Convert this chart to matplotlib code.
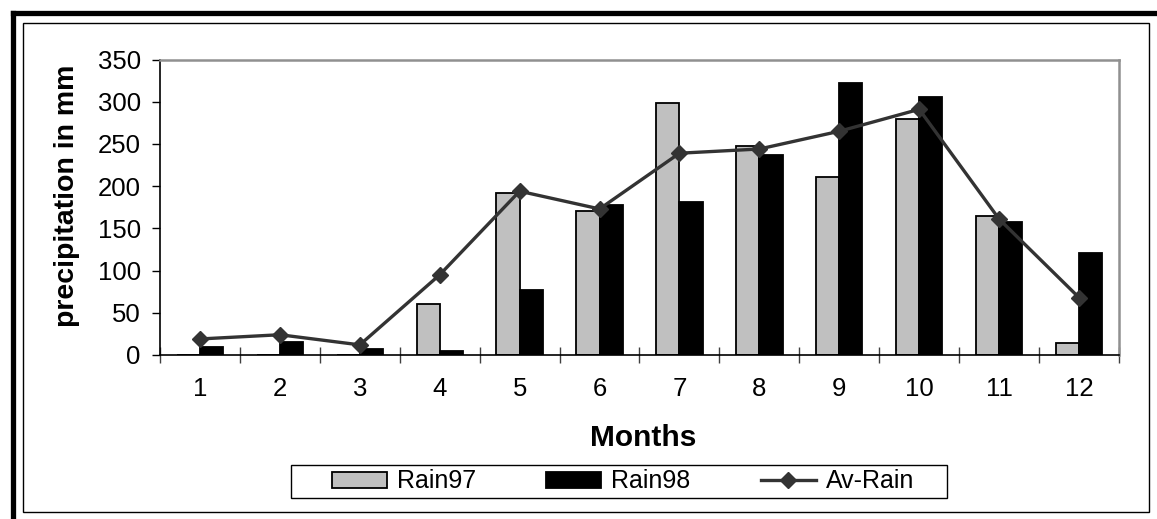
import matplotlib.pyplot as plt
from matplotlib.patches import Rectangle
from matplotlib.lines import Line2D

plt.rcParams['font.family'] = ['Liberation Sans', 'DejaVu Sans']

# data
months = [1, 2, 3, 4, 5, 6, 7, 8, 9, 10, 11, 12]
rain97 = [0, 0, 0, 60, 192, 170, 298, 248, 211, 279, 165, 14]
rain98 = [10, 15, 7, 5, 77, 178, 181, 237, 322, 305, 157, 121]
av_rain = [19, 24, 12, 95, 194, 173, 239, 244, 265, 291, 161, 68]
yticks = [0, 50, 100, 150, 200, 250, 300, 350]

W, H = 1157, 519
fig = plt.figure(figsize=(W / 100, H / 100), dpi=100)
ax = fig.add_axes([160 / W, 1 - 355 / H, 959 / W, 295.5 / H])

w = 0.29
x97 = [m - w / 2 for m in months]
x98 = [m + w / 2 for m in months]
b97 = ax.bar(x97, rain97, width=w, color='#c0c0c0', edgecolor='black', linewidth=1.3, label='Rain97', zorder=2)
b98 = ax.bar(x98, rain98, width=w, color='black', edgecolor='black', linewidth=1.3, label='Rain98', zorder=2)
ln, = ax.plot(months, av_rain, color='#333333', linewidth=2.4, marker='D', markersize=8,
              label='Av-Rain', zorder=3)

ax.set_xlim(0.5, 12.5)
ax.set_ylim(0, 350)
ax.set_yticks(yticks)
ax.set_xticks([m + 0.5 for m in range(0, 13)])
ax.set_xticklabels([])
ax.set_xticks(months, minor=True)
ax.set_xticklabels([str(m) for m in months], minor=True)
ax.tick_params(axis='x', which='major', direction='inout', length=11.5, width=1, color='#404040')
ax.tick_params(axis='x', which='minor', length=0, pad=16, labelsize=18.5)
ax.tick_params(axis='y', direction='out', length=5.8, width=1, pad=8, labelsize=18.5)

for s in ['left', 'bottom']:
    ax.spines[s].set_color('black')
    ax.spines[s].set_linewidth(1.2)
for s in ['top', 'right']:
    ax.spines[s].set_color('#909090')
    ax.spines[s].set_linewidth(1.8)

ax.set_xlabel('Months', fontsize=21.5, fontweight='bold')
ax.xaxis.set_label_coords(0.504, -0.235)
ax.set_ylabel('precipitation in mm', fontsize=20.5, fontweight='bold')
ax.yaxis.set_label_coords(-0.083, 0.54)

fig.legend(handles=[b97, b98, ln], labels=['Rain97', 'Rain98', 'Av-Rain'],
           loc='center', bbox_to_anchor=(623 / W, 1 - 481.5 / H), ncol=3, frameon=False,
           fontsize=18, handlelength=2.2, handletextpad=0.4, columnspacing=2.8,
           handleheight=0.6)
fig.add_artist(Rectangle((291 / W, 1 - 498 / H), 656 / W, 33 / H, transform=fig.transFigure,
                         facecolor='none', edgecolor='black', linewidth=1))

# chart frames
fig.add_artist(Rectangle((23 / W, 1 - 512 / H), 1126 / W, 489 / H, transform=fig.transFigure,
                         facecolor='none', edgecolor='black', linewidth=1))
fig.add_artist(Line2D([12.5 / W, 12.5 / W], [1 - 12.5 / H, 0], transform=fig.transFigure,
                      color='black', linewidth=3.8, solid_capstyle='projecting'))
fig.add_artist(Line2D([12.5 / W, 1], [1 - 12.5 / H, 1 - 12.5 / H], transform=fig.transFigure,
                      color='black', linewidth=3.8, solid_capstyle='projecting'))

fig.savefig('out.png', dpi=100)
